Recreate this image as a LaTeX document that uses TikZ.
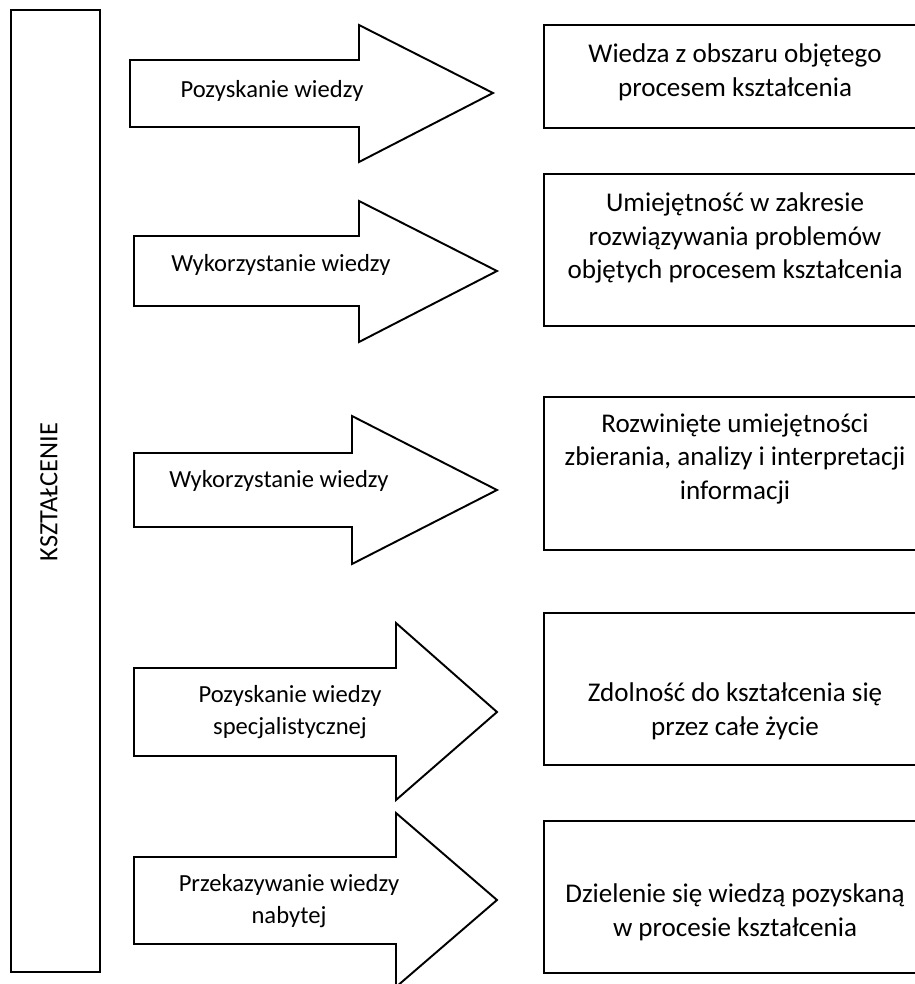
\documentclass[tikz,border=0pt]{standalone}
\usepackage{fontspec}
\setmainfont{Carlito}
\usepackage{tikz}
\usetikzlibrary{positioning,calc}
\newcommand{\px}{0.02cm}
% strzalka: lewy brzeg, gora/dol trzonu, podstawa grotu, gora/dol grotu, czubek (x,y)
\newcommand{\strzalka}[8]{%
  \draw[ksztalt] (#1,#2) -- (#4,#2) -- (#4,#5) -- (#7,#8) -- (#4,#6) -- (#4,#3) -- (#1,#3) -- cycle;}

\begin{document}
\begin{tikzpicture}[
    x=\px, y=-\px,
    ksztalt/.style={draw=black,fill=white,line width=1.1pt,line join=miter},
    pole/.style={draw=black,line width=1.1pt,minimum width=382*\px,inner sep=0pt},
    opis/.style={align=center,font=\fontsize{15.4}{19.2}\selectfont},
    etykieta/.style={align=center,font=\fontsize{14}{18.4}\selectfont}
  ]
  \useasboundingbox (0,0) rectangle (915,984);
  \clip (0,0) rectangle (915,984);

  % kolumna po lewej
  \node[pole,minimum width=89*\px,minimum height=962*\px] (kolumna) at (55.5,491) {};
  \node[rotate=90,font=\fontsize{15}{17}\selectfont] (ksztalcenie) at (49,492) {KSZTAŁCENIE};

  % strzalki
  \strzalka{130}{60}{127}{359}{25}{162}{493}{93}
  \strzalka{134}{236}{306}{359}{201}{342}{497}{271}
  \strzalka{134}{453}{527}{352}{416}{564}{497}{490}
  \strzalka{134}{668}{756}{396}{623}{800}{497}{712}
  \strzalka{134}{857}{944}{396}{813}{987}{497}{900}

  \node[etykieta] (e1) at (272,91) {Pozyskanie wiedzy};
  \node[etykieta] (e2) at (281,265) {Wykorzystanie wiedzy};
  \node[etykieta] (e3) at (279,481) {Wykorzystanie wiedzy};
  \node[etykieta] (e4) at (290,712) {Pozyskanie wiedzy\\specjalistycznej};
  \node[etykieta] (e5) at (289,901) {Przekazywanie wiedzy\\nabytej};

  % efekty
  \node[pole,minimum height=103*\px] (b1) at (735,76.5) {};
  \node[pole,minimum height=152*\px] (b2) at (735,250) {};
  \node[pole,minimum height=153*\px] (b3) at (735,473.5) {};
  \node[pole,minimum height=152*\px] (b4) at (735,689) {};
  \node[pole,minimum height=152*\px] (b5) at (735,897) {};

  \node[opis] (t1) at (735,72) {Wiedza z obszaru objętego\\procesem kształcenia};
  \node[opis] (t2) at (735,238) {Umiejętność w zakresie\\rozwiązywania problemów\\objętych procesem kształcenia};
  \node[opis] (t3) at (735,459) {Rozwinięte umiejętności\\zbierania, analizy i interpretacji\\informacji};
  \node[opis] (t4) at (735,711) {Zdolność do kształcenia się\\przez całe życie};
  \node[opis] (t5) at (735,912) {Dzielenie się wiedzą pozyskaną\\w procesie kształcenia};
\end{tikzpicture}
\end{document}
